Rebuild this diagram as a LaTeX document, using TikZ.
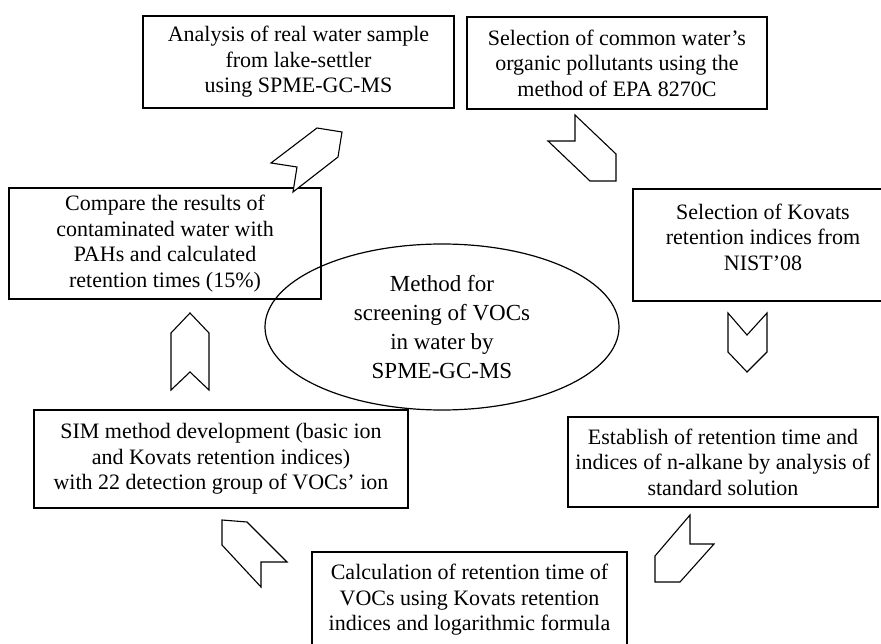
\documentclass[tikz,border=0pt]{standalone}
\usepackage{fontspec}
\setmainfont{Liberation Serif}
\usetikzlibrary{shapes.geometric}
\begin{document}
\begin{tikzpicture}[x=1pt,y=-1pt,
  box/.style={draw, line width=1.2pt, rectangle, inner sep=0pt, align=center,
    font=\fontsize{22}{25.5}\selectfont},
  oval/.style={draw, line width=1.2pt, ellipse, inner sep=0pt, align=center,
    font=\fontsize{23}{29}\selectfont},
  txt/.style={inner sep=0pt, align=center, font=\fontsize{22}{25.5}\selectfont},
  chev/.style={draw, line width=1.1pt, line join=miter, fill=white}]
\useasboundingbox (0,0) rectangle (881,644);
\node[box, minimum width=311pt, minimum height=92pt] (A) at (298.5,62)
  {Analysis of real water sample\\from lake-settler\\using SPME-GC-MS};
\node[box, minimum width=300pt, minimum height=92pt] (B) at (617,63)
  {Selection of common water’s\\organic pollutants using the\\method of EPA 8270C};
\node[box, minimum width=312pt, minimum height=111pt] (C) at (165,243.5)
  {Compare the results of\\contaminated water with\\PAHs and calculated\\retention times (15\%)};
\node[box, minimum width=260pt, minimum height=112pt] (D) at (763,245) {};
\node[txt] (Dt) at (763,237) {Selection of Kovats\\retention indices from\\NIST’08};
\node[box, minimum width=310pt, minimum height=90pt] (E) at (723,462)
  {Establish of retention time and\\indices of n-alkane by analysis of\\standard solution};
\node[box, minimum width=374pt, minimum height=98pt] (F) at (221,459)
  {SIM method development (basic ion\\and Kovats retention indices)\\with 22 detection group of VOCs’ ion};
\node[box, minimum width=315pt, minimum height=96pt] (G) at (469.5,600)
  {Calculation of retention time of\\VOCs using Kovats retention\\indices and logarithmic formula};
\node[oval, minimum width=354pt, minimum height=166pt] (M) at (442,327)
  {Method for\\screening of VOCs\\in water by\\SPME-GC-MS};
% chevron arrows
\draw[chev] (271,163) -- (297,167) -- (293,192) -- (338,157) -- (342,132) -- (317,128) -- cycle;
\draw[chev] (575,115) -- (616,154) -- (616,181) -- (590,181) -- (548,141) -- (575,141) -- cycle;
\draw[chev] (728,313) -- (747,335) -- (767,313) -- (767,352) -- (747,372) -- (728,352) -- cycle;
\draw[chev] (190,313) -- (209,333) -- (209,390) -- (190,372) -- (171,390) -- (171,333) -- cycle;
\draw[chev] (655,582) -- (680,582) -- (714,544) -- (690,544) -- (690,515) -- (655,556) -- cycle;
\draw[chev] (222,520) -- (247,522) -- (287,562) -- (261,562) -- (261,587) -- (222,545) -- cycle;
\end{tikzpicture}
\end{document}
